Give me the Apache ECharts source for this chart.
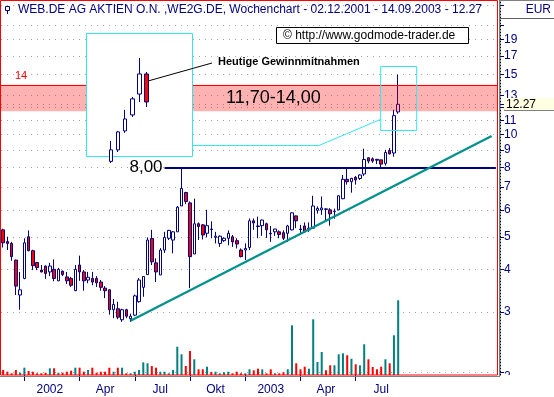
<!DOCTYPE html>
<html>
<head>
<meta charset="utf-8">
<script src="https://cdn.jsdelivr.net/npm/echarts@6/dist/echarts.min.js"></script>
<style>
  html, body { margin: 0; padding: 0; background: #fff; }
  #chart { width: 554px; height: 397px; }
</style>
</head>
<body>
<div id="chart"></div>
<script>
// Wochenchart WEB.DE, erste Kerze 02.12.2001
const startDate = Date.UTC(2001, 11, 2);
const weeksOnAxis = 117; // leere Wochen rechts
const quarterLabels = ['2002', 'Apr', 'Jul', 'Okt', '2003', 'Apr', 'Jul'];
const priceLabels = [2, 3, 4, 5, 6, 7, 8, 9, 10, 11, 12, 13, 15, 17, 19];
const priceGrid = [3, 4, 5, 6, 7, 8, 9, 10, 11, 12, 13, 15, 17, 19, 21, 24];

// [open, high, low, close] pro Woche
const weeklyOHLC = [
  [5.24, 5.28, 4.65, 4.80], [4.84, 5.00, 4.57, 4.78], [4.78, 4.83, 4.25, 4.37], [4.27, 4.28, 3.37, 3.58],
  [3.37, 3.94, 3.05, 3.49], [3.77, 4.95, 3.75, 4.80], [5.00, 5.22, 4.53, 4.55], [4.55, 4.58, 3.99, 4.11],
  [4.20, 4.22, 3.99, 4.06], [3.99, 4.13, 3.93, 3.94], [4.10, 4.12, 3.76, 3.90], [3.94, 4.19, 3.83, 4.10],
  [4.01, 4.29, 3.70, 3.77], [3.71, 4.05, 3.70, 4.01], [3.96, 3.98, 3.83, 3.87], [3.81, 3.94, 3.63, 3.71],
  [3.77, 3.81, 3.56, 3.60], [3.47, 4.13, 3.46, 4.01], [4.13, 4.40, 3.71, 3.94], [3.94, 3.99, 3.47, 3.71],
  [3.73, 3.94, 3.65, 3.80], [3.77, 3.94, 3.60, 3.68], [3.77, 3.83, 3.56, 3.66], [3.68, 3.73, 3.47, 3.55],
  [3.53, 3.58, 3.30, 3.47], [3.49, 3.50, 2.95, 3.05], [3.05, 3.28, 2.88, 3.16], [3.07, 3.22, 2.86, 2.90],
  [2.85, 3.07, 2.81, 3.05], [3.05, 3.07, 2.88, 2.92], [2.87, 2.97, 2.81, 2.92], [2.94, 3.38, 2.92, 3.35],
  [3.22, 3.78, 3.20, 3.73], [3.55, 3.83, 3.33, 3.82], [3.87, 4.98, 3.86, 4.89], [4.94, 5.24, 4.13, 4.22],
  [4.19, 4.32, 3.68, 3.94], [3.86, 4.63, 3.86, 4.57], [4.57, 5.17, 4.48, 4.98], [4.95, 5.24, 4.89, 5.22],
  [4.89, 5.20, 4.47, 5.17], [5.17, 6.16, 5.17, 6.11], [6.16, 7.95, 6.16, 6.94], [6.75, 6.78, 6.24, 6.35],
  [6.29, 6.35, 3.53, 4.37], [4.45, 6.47, 4.45, 5.46], [5.46, 5.51, 4.89, 5.36], [5.42, 5.45, 4.91, 5.06],
  [5.12, 6.00, 4.98, 5.39], [5.27, 5.55, 4.95, 5.25], [4.98, 5.17, 4.78, 5.02], [4.78, 5.05, 4.67, 5.02],
  [4.87, 4.98, 4.83, 4.95], [4.95, 5.22, 4.72, 5.12], [5.00, 5.06, 4.67, 4.83], [4.87, 4.95, 4.62, 4.76],
  [4.57, 4.62, 4.35, 4.37], [4.57, 4.78, 4.27, 4.62], [4.65, 5.66, 4.57, 5.57], [5.57, 5.66, 5.24, 5.49],
  [5.38, 5.73, 4.95, 5.36], [5.39, 5.62, 5.03, 5.60], [5.46, 5.50, 4.96, 5.24], [5.12, 5.38, 4.83, 5.10],
  [5.17, 5.28, 5.03, 5.27], [5.17, 5.22, 4.95, 5.08], [5.14, 5.22, 4.89, 4.95], [5.12, 5.42, 4.83, 5.38],
  [5.24, 5.90, 5.22, 5.88], [5.76, 5.78, 5.30, 5.57], [5.27, 5.42, 5.08, 5.25], [5.38, 5.51, 5.14, 5.17],
  [5.24, 5.51, 5.17, 5.30], [5.30, 6.60, 5.28, 6.16], [5.98, 6.14, 5.85, 6.06], [6.00, 6.57, 5.80, 6.08],
  [6.04, 6.06, 5.60, 6.02], [6.00, 6.07, 5.39, 5.84], [5.93, 6.05, 5.65, 5.95], [6.00, 6.62, 5.98, 6.60],
  [6.47, 7.60, 6.45, 7.38], [7.38, 7.94, 7.12, 7.26], [7.26, 7.45, 6.74, 7.43], [7.48, 7.55, 7.12, 7.35],
  [7.42, 7.63, 7.35, 7.60], [7.65, 9.08, 7.55, 8.44], [8.54, 8.56, 8.22, 8.35], [8.48, 8.56, 8.25, 8.35],
  [8.45, 8.46, 8.18, 8.40], [8.42, 8.42, 8.00, 8.18], [8.22, 9.01, 8.10, 8.85], [8.97, 9.12, 8.73, 8.77],
  [8.82, 11.82, 8.60, 11.36], [11.65, 15.00, 11.50, 12.27]
];

// Umsatz (Tsd. Stück, geschätzt)
const volumes = [
  50, 33, 17, 50, 23, 73, 40, 33, 17, 17,
  23, 67, 67, 23, 23, 33, 43, 73, 73, 33,
  50, 73, 23, 33, 33, 73, 33, 73, 73, 17,
  17, 33, 50, 127, 117, 90, 73, 33, 33, 17,
  50, 283, 207, 90, 240, 157, 57, 57, 83, 30,
  33, 17, 27, 33, 17, 33, 17, 17, 57, 47,
  63, 57, 17, 57, 17, 17, 27, 57, 497, 117,
  57, 83, 63, 557, 130, 230, 47, 97, 97, 207,
  217, 197, 163, 107, 97, 307, 157, 80, 57, 83,
  157, 117, 397, 747
];

// Tageskerzen im Ausschnitt [open, high, low, close]
const insetOHLC = [
  [8.60, 9.86, 8.50, 9.31], [9.31, 10.48, 9.18, 10.42], [10.48, 11.78, 10.36, 11.22],
  [11.47, 12.58, 11.34, 12.46], [12.76, 14.99, 12.27, 14.00], [14.00, 14.12, 11.96, 12.27]
];

const supportLevel = 8.00;
const targetZone = [11.70, 14.00];
const lastClose = 12.27;
const trendStart = [30, 2.83];
const trendEnd = [115, 9.9];

const font = '"Liberation Sans", Arial, sans-serif';
const navy = '#000080';
const cyan = '#33e6f2';

// Wochen-Kategorien und Quartalsanfänge
const weeks = [];
for (let i = 0; i < weeksOnAxis; i++) {
  weeks.push(new Date(startDate + i * 7 * 864e5).toISOString().slice(0, 10));
}
const quarterStarts = new Set();
const labelAt = {};
let q = 0;
for (let i = 1; i < weeklyOHLC.length; i++) {
  const m = +weeks[i].slice(5, 7), pm = +weeks[i - 1].slice(5, 7);
  if (m !== pm && (m - 1) % 3 === 0) {
    quarterStarts.add(i);
    labelAt[i + 6] = quarterLabels[q++];
  }
}

const candleData = weeklyOHLC.map(r => [r[0], r[3], r[2], r[1]]);
const volumeData = volumes.map((v, i) => ({
  value: v,
  itemStyle: { color: weeklyOHLC[i][3] >= weeklyOHLC[i][0] ? '#008080' : '#ff0000' }
}));
const insetSlots = Array.from({ length: 15 }, (_, i) => 't' + i);
const insetData = insetOHLC.map((r, i) => [i + 3, r[0], r[3], r[2], r[1]]);

const chart = echarts.init(document.getElementById('chart'));

chart.setOption({
  animation: false,
  backgroundColor: '#fff',
  grid: [
    { left: 1, top: 1, width: 497, height: 374 },
    { left: 1, top: 300, width: 497, height: 75 },
    { left: 86, top: 33, width: 107, height: 124 }
  ],
  xAxis: [
    { type: 'category', gridIndex: 0, data: weeks, axisLine: { show: false }, axisTick: { show: false },
      axisLabel: { show: false }, splitLine: { show: false } },
    { type: 'category', gridIndex: 1, data: weeks, offset: 2, axisLine: { show: false },
      axisTick: { show: true, alignWithLabel: true, length: 6, interval: i => quarterStarts.has(i),
        lineStyle: { color: navy, width: 1 } },
      axisLabel: { show: true, interval: i => labelAt[i] !== undefined, formatter: (v, i) => labelAt[i] || '',
        color: navy, fontSize: 12, fontFamily: font, margin: 7 },
      splitLine: { show: false } },
    { type: 'category', gridIndex: 2, data: insetSlots, show: false }
  ],
  yAxis: [
    { type: 'log', gridIndex: 0, position: 'right', offset: 2, min: 1.96, max: 24.7,
      axisLine: { show: true, lineStyle: { color: '#000', type: [1, 2] } },
      axisTick: { show: true, customValues: priceGrid.concat([2, lastClose]), length: 4, lineStyle: { color: navy } },
      axisLabel: { customValues: priceLabels, color: navy, fontSize: 12, fontFamily: font, margin: 4,
        formatter: v => (v === 2 ? '{low|2}' : String(v)),
        rich: { low: { color: navy, fontSize: 12, fontFamily: font, padding: [9, 0, 0, 0] } } },
      splitLine: { show: true, lineStyle: { color: '#a8a8a8', type: [1, 5] } },
      minorTick: { show: false }, minorSplitLine: { show: false } },
    { type: 'value', gridIndex: 1, min: 0, max: 750, show: false },
    { type: 'value', gridIndex: 2, min: 8.87, max: 16.53, show: false }
  ],
  series: [
    {
      type: 'candlestick', name: 'WEB.DE', xAxisIndex: 0, yAxisIndex: 0, data: candleData, barWidth: 3, z: 2,
      itemStyle: { color: '#fff', color0: '#ff0000', borderColor: navy, borderColor0: navy, borderWidth: 1 },
      markLine: {
        silent: true, symbol: ['none', 'none'], label: { show: false },
        data: [
          [{ coord: [38, supportLevel], lineStyle: { color: navy, width: 2, type: 'solid' },
             label: { show: true, position: 'start', formatter: '8,00', color: '#000', fontSize: 17,
               fontFamily: font, distance: 2 } },
           { coord: [116, supportLevel] }],
          [{ coord: trendStart, lineStyle: { color: '#00918a', width: 2.2, type: 'solid' } },
           { coord: trendEnd }]
        ]
      }
    },
    {
      type: 'line', name: 'zone', xAxisIndex: 0, yAxisIndex: 0, data: [], z: 3,
      markArea: { silent: true, z: 3, itemStyle: { color: 'rgba(255,0,0,0.3)' },
        data: [[{ yAxis: targetZone[0] }, { yAxis: targetZone[1] }]] },
      markLine: { silent: true, symbol: ['none', 'none'],
        lineStyle: { color: '#ff0000', width: 1, type: 'solid' },
        label: { show: true, position: 'insideStartTop', formatter: '14', color: '#ff0000',
          fontSize: 11, fontFamily: font, distance: [14, 3] },
        data: [{ yAxis: targetZone[1] }] }
    },
    {
      type: 'bar', name: 'Umsatz', xAxisIndex: 1, yAxisIndex: 1, data: volumeData, barWidth: 2
    },
    {
      type: 'candlestick', name: 'Tage', xAxisIndex: 2, yAxisIndex: 2, data: insetData, barWidth: 4, z: 10,
      encode: { x: 0, y: [1, 2, 3, 4] }, clip: true,
      itemStyle: { color: '#fff', color0: '#ff0000', borderColor: navy, borderColor0: navy, borderWidth: 1 }
    }
  ]
});

// Beschriftungen und Rahmen
const pt = (i, v) => chart.convertToPixel({ gridIndex: 0 }, [i, v]);
const last = weeklyOHLC.length - 1;
const boxL = pt(last, 15.9), boxR = pt(last, 10.3);
const zoneMid = pt(70, Math.sqrt(targetZone[0] * targetZone[1]));
const yClose = pt(0, lastClose)[1];

chart.setOption({
  graphic: [
    { type: 'rect', z: 6, shape: { x: 86.5, y: 33.5, width: 106, height: 123 },
      style: { fill: '#fff', stroke: cyan, lineWidth: 1 } },
    { type: 'polyline', z: 6, shape: { points: [[193, 145.5], [319, 145.5], [boxL[0] - 18, 119.5]] },
      style: { fill: null, stroke: cyan, lineWidth: 1 } },
    { type: 'rect', z: 6, shape: { x: boxL[0] - 18 + 0.5, y: Math.round(boxL[1]) + 0.5, width: 36, height: Math.round(boxR[1] - boxL[1]) },
      style: { fill: null, stroke: cyan, lineWidth: 1 } },
    { type: 'line', z: 12, shape: { x1: 148, y1: 81, x2: 212, y2: 63 }, style: { stroke: '#000', lineWidth: 1 } },
    { type: 'text', z: 12, x: 218, y: 62, style: { text: 'Heutige Gewinnmitnahmen', fill: '#000',
      font: 'bold 11px ' + font, verticalAlign: 'middle' } },
    { type: 'text', z: 7, x: 226, y: zoneMid[1], style: { text: '11,70-14,00', fill: '#000',
      font: '18px ' + font, verticalAlign: 'middle' } },
    { type: 'rect', z: 6, shape: { x: 276.5, y: 27.5, width: 192, height: 16 },
      style: { fill: '#fff', stroke: '#000', lineWidth: 1 } },
    { type: 'text', z: 7, x: 283, y: 36, style: { text: '\u00a9 http://www.godmode-trader.de', fill: '#000',
      font: '12px ' + font, verticalAlign: 'middle' } },
    { type: 'rect', z: 6, shape: { x: 5.5, y: 6.5, width: 4, height: 4 }, style: { fill: '#fff', stroke: navy } },
    { type: 'line', z: 6, shape: { x1: 7.5, y1: 11, x2: 7.5, y2: 14 }, style: { stroke: navy } },
    { type: 'text', z: 6, x: 18, y: 10, style: {
      text: 'WEB.DE AG AKTIEN O.N. ,WE2G.DE, Wochenchart - 02.12.2001 - 14.09.2003 - 12.27',
      fill: navy, font: '12px ' + font, verticalAlign: 'middle' } },
    { type: 'rect', z: 30, shape: { x: 0.5, y: 0.5, width: 497, height: 374.5 },
      style: { fill: null, stroke: '#ff0000', lineWidth: 1 } },
    { type: 'line', z: 30, shape: { x1: 0, y1: 376.5, x2: 500, y2: 376.5 }, style: { stroke: '#808080' } },
    { type: 'line', z: 30, shape: { x1: 499.5, y1: 0, x2: 499.5, y2: 377 }, style: { stroke: '#808080' } },
    { type: 'line', z: 30, shape: { x1: 500, y1: 0.5, x2: 554, y2: 0.5 }, style: { stroke: '#808080' } },
    { type: 'line', z: 30, shape: { x1: 500, y1: 18.5, x2: 554, y2: 18.5 }, style: { stroke: '#606060' } },
    { type: 'text', z: 30, x: 551, y: 10, style: { text: 'EUR', fill: navy, font: '12px ' + font,
      align: 'right', verticalAlign: 'middle' } },
    { type: 'rect', z: 30, shape: { x: 504, y: Math.round(yClose) - 6, width: 50, height: 12 },
      style: { fill: '#ffffe4', stroke: null } },
    { type: 'line', z: 30, shape: { x1: 504, y1: Math.round(yClose) + 6.5, x2: 554, y2: Math.round(yClose) + 6.5 },
      style: { stroke: '#808080' } },
    { type: 'text', z: 31, x: 506, y: yClose, style: { text: '12.27', fill: '#000', font: '12px ' + font,
      verticalAlign: 'middle' } },
    { type: 'rect', z: 30, shape: { x: 501, y: 375, width: 53, height: 22 }, style: { fill: '#fff', stroke: null } }
  ]
});
</script>
</body>
</html>
